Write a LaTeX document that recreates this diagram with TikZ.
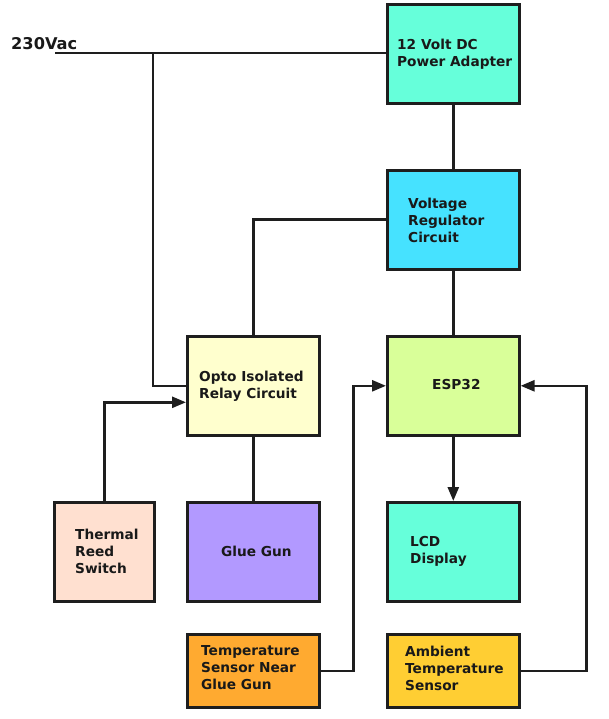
\documentclass[tikz,border=0pt]{standalone}
\usepackage{fontspec}
\setmainfont{DejaVu Sans}
\usetikzlibrary{arrows.meta,calc}
\definecolor{cpa}{RGB}{102,255,218}
\definecolor{cvr}{RGB}{70,226,255}
\definecolor{cop}{RGB}{255,255,206}
\definecolor{ces}{RGB}{217,255,153}
\definecolor{cth}{RGB}{255,224,208}
\definecolor{cgg}{RGB}{178,153,255}
\definecolor{ctn}{RGB}{255,170,48}
\definecolor{cam}{RGB}{255,206,51}
\definecolor{edge}{RGB}{30,30,30}
\tikzset{
  box/.style={draw=edge,line width=2.6pt,minimum width=132pt,minimum height=99pt,inner sep=0pt,anchor=north west},
  lbl/.style={anchor=west,align=left,font=\bfseries\fontsize{13.7}{17}\selectfont,inner sep=0pt,text=black!90},
  wire/.style={line width=2.6pt,draw=edge},
  arr/.style={wire,-{Triangle[length=14pt,width=11pt]}}
}
\begin{document}
\begin{tikzpicture}[x=1pt,y=-1pt]
\useasboundingbox (0,0) rectangle (609,719);
% boxes
\node[box,fill=cpa] (pa) at (386,3) {};
\node[box,fill=cvr] (vr) at (386,169) {};
\node[box,fill=cop] (op) at (186,335) {};
\node[box,fill=ces] (es) at (386,335) {};
\node[box,fill=cth,minimum width=100pt] (th) at (53,501) {};
\node[box,fill=cgg] (gg) at (186,501) {};
\node[box,fill=cpa] (lcd) at (386,501) {};
\node[box,fill=ctn,minimum height=73pt] (tn) at (186,633) {};
\node[box,fill=cam,minimum height=73pt] (am) at (386,633) {};
% labels
\node[lbl] (tpa) at (397,54) {12 Volt DC\\Power Adapter};
\node[lbl] (tvr) at (408,220) {Voltage\\Regulator\\Circuit};
\node[lbl] (top) at (199,386) {Opto Isolated\\Relay Circuit};
\node[lbl] (tes) at (432,385) {ESP32};
\node[lbl] (tth) at (75,551) {Thermal\\Reed\\Switch};
\node[lbl] (tgg) at (221,551) {Glue Gun};
\node[lbl] (tlcd) at (410,551) {LCD\\Display};
\node[lbl] (ttn) at (201,668) {Temperature\\Sensor Near\\Glue Gun};
\node[lbl] (tam) at (405,668) {Ambient\\Temperature\\Sensor};
\node[anchor=west,inner sep=0pt,font=\bfseries\fontsize{16.2}{19}\selectfont,text=black!90] (vac) at (11,44) {230Vac};
% wires
\coordinate (ac) at (55,53);
\coordinate (j1) at (153,53);
\draw[wire] (ac) -- (j1) -- (j1 -| pa.west);
\draw[wire] (j1) |- (op.west);
\draw[wire] (pa.south) -- (vr.north);
\draw[wire] (vr.west) -| (op.north);
\draw[wire] (vr.south) -- (es.north);
\draw[wire] (op.south) -- (gg.north);
\draw[arr] (th.north) |- ($(op.west)+(0,16.5)$);
\draw[arr] (es.south) -- (lcd.north);
\draw[arr] (tn.east) -- ++(33,0) |- (es.west);
\draw[arr] (am.east) -- ++(66,0) |- (es.east);
\end{tikzpicture}
\end{document}
